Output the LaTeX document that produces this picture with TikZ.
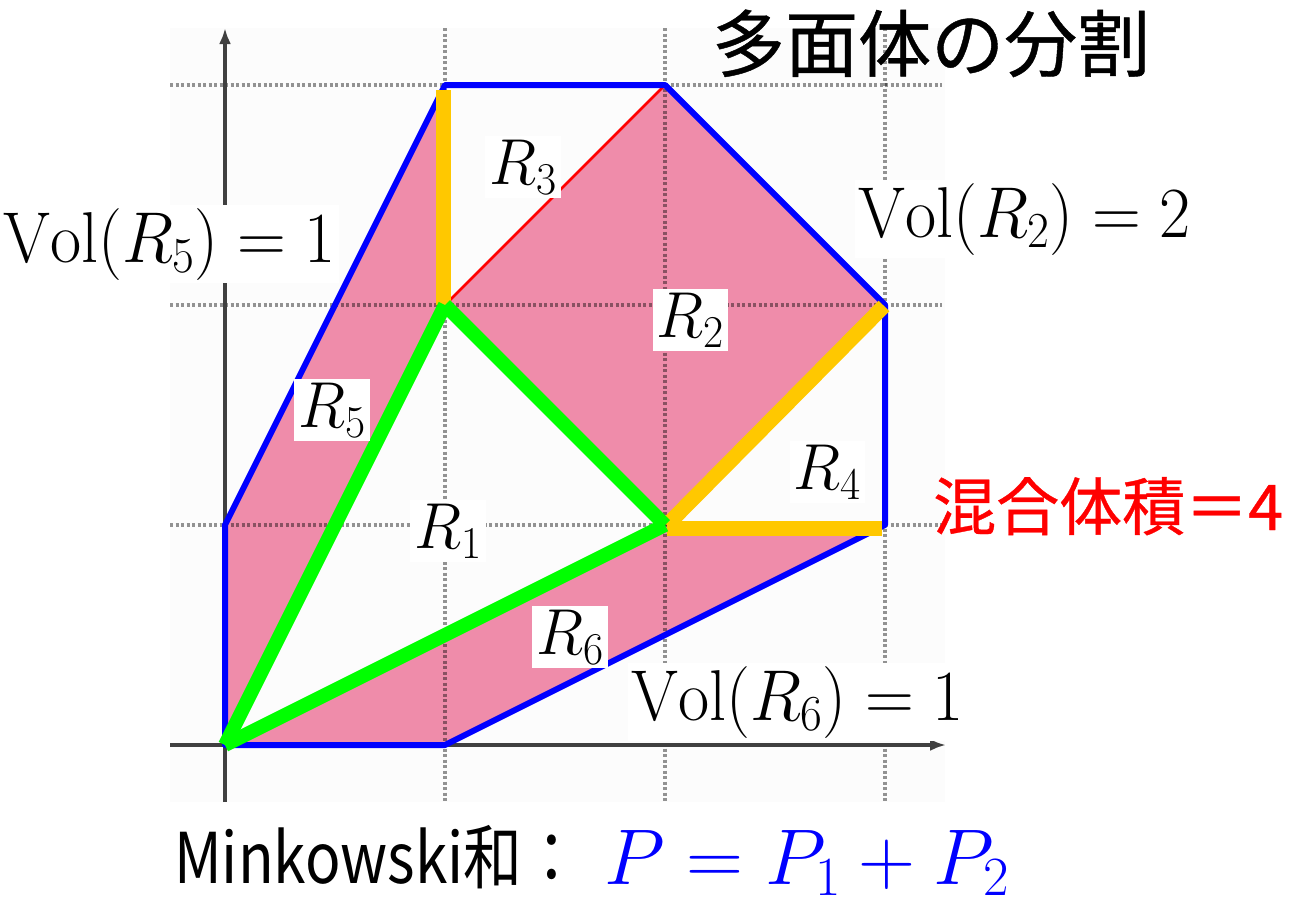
\RequirePackage{fix-cm}
\documentclass[tikz,border=0pt]{standalone}
\usepackage{fontspec}
\usepackage{graphicx}
\newfontfamily\cjk{Noto Sans CJK JP}
\newfontfamily\cjkb[FakeBold=0.6]{Noto Sans CJK JP}
\usetikzlibrary{arrows.meta}
\definecolor{pinkfill}{RGB}{239,140,170}
\definecolor{bgc}{RGB}{252,252,252}
\definecolor{blueline}{RGB}{0,0,255}
\definecolor{greenline}{RGB}{0,255,0}
\definecolor{orangeline}{RGB}{255,200,0}
\definecolor{axisc}{RGB}{64,64,64}
\newcommand\sqz[1]{\scalebox{0.94}[1]{#1}}
\newcommand\rsq[1]{\scalebox{0.96}[1]{#1}}
\newcommand\msq[1]{\scalebox{0.84}[1]{#1}}
\tikzset{
  gridline/.style={black, opacity=0.42, line width=3.5pt, dash pattern=on 3pt off 2.5pt},
  axisline/.style={axisc, line width=3.5pt, -{Latex[length=16pt,width=12pt]}},
  bnd/.style={blueline, line width=6pt, line join=round},
  grn/.style={greenline, line width=14pt},
  org/.style={orangeline, line width=15pt},
  rlab/.style={fill=white, inner sep=4pt, font=\fontsize{65}{72}\selectfont},
  vlab/.style={fill=white, inner sep=3pt, anchor=base west, font=\fontsize{72}{80}\selectfont},
}
\begin{document}
\begin{tikzpicture}[x=1pt,y=-1pt]
\useasboundingbox (0,0) rectangle (1297,905);
% lattice points
\coordinate (v00) at (225,745);
\coordinate (v10) at (445,745);
\coordinate (v31) at (885,525);
\coordinate (v32) at (885,305);
\coordinate (v23) at (665,85);
\coordinate (v13) at (445,85);
\coordinate (v01) at (225,525);
\coordinate (v12) at (445,305);
\coordinate (v21) at (665,525);
% plot background
\fill[bgc] (170,28) rectangle (945,802);
% regions
\fill[pinkfill] (v00) -- (v10) -- (v31) -- (v32) -- (v23) -- (v13) -- (v01) -- cycle;
\fill[bgc] (v00) -- (v12) -- (v21) -- cycle;
\fill[bgc] (v12) -- (v13) -- (v23) -- cycle;
\fill[bgc] (v21) -- (v31) -- (v32) -- cycle;
% grid
\coordinate (gh1a) at (170,85);  \coordinate (gh1b) at (942,85);
\coordinate (gh2a) at (170,305); \coordinate (gh2b) at (942,305);
\coordinate (gh3a) at (170,525); \coordinate (gh3b) at (942,525);
\coordinate (gv1a) at (445,28);  \coordinate (gv1b) at (445,802);
\coordinate (gv2a) at (665,28);  \coordinate (gv2b) at (665,802);
\coordinate (gv3a) at (885,28);  \coordinate (gv3b) at (885,802);
\draw[gridline] (gh1a) -- (gh1b);
\draw[gridline] (gh2a) -- (gh2b);
\draw[gridline] (gh3a) -- (gh3b);
\draw[gridline] (gv1a) -- (gv1b);
\draw[gridline] (gv2a) -- (gv2b);
\draw[gridline] (gv3a) -- (gv3b);
% axes
\coordinate (xa) at (170,745); \coordinate (xb) at (946,745);
\coordinate (ya) at (225,802); \coordinate (yb) at (225,28);
\draw[axisline] (xa) -- (xb);
\draw[axisline] (ya) -- (yb);
% edges
\draw[red, line width=2.5pt] (v12) -- (v23);
\draw[bnd] (v00) -- (v10) -- (v31) -- (v32) -- (v23) -- (v13) -- (v01) -- cycle;
\coordinate (otop) at (443,90);
\coordinate (obot) at (443,305);
\coordinate (oh1) at (667,528);
\coordinate (oh2) at (882,528);
\coordinate (od1) at (667,525);
\coordinate (od2) at (884,306);
\draw[org] (obot) -- (otop);
\draw[org] (oh1) -- (oh2);
\draw[org] (od1) -- (od2);
\draw[grn] (v00) -- (v12);
\draw[grn] (v12) -- (v21);
\draw[grn] (v21) -- (v00);
% region labels
\node[rlab] (r3) at (523,167) {\rsq{$R_3$}};
\node[rlab] (r2) at (690,320) {\rsq{$R_2$}};
\node[rlab] (r5) at (332,410) {\rsq{$R_5$}};
\node[rlab] (r1) at (448,531) {\rsq{$R_1$}};
\node[rlab] (r4) at (827,472) {\rsq{$R_4$}};
\node[rlab] (r6) at (570,637) {\rsq{$R_6$}};
% volume labels
\node[vlab] (vol5) at (0,262) {\sqz{$\mathrm{Vol}(R_5)=1$}};
\node[vlab] (vol2) at (855,237) {\sqz{$\mathrm{Vol}(R_2)=2$}};
\node[vlab] (vol6) at (628,720) {\sqz{$\mathrm{Vol}(R_6)=1$}};
% titles
\node[anchor=base west, inner sep=0, font=\cjkb\fontsize{73}{80}\selectfont] (title) at (712,71) {多面体の分割};
\node[anchor=base west, inner sep=0, text=red, font=\cjkb\fontsize{63}{68}\selectfont] (mixed) at (933,530) {混合体積＝4};
\node[anchor=base west, inner sep=0, font=\cjk\fontsize{70}{76}\selectfont] (mink) at (174,883) {\msq{Minkowski和：}};
\node[anchor=base west, inner sep=0, text=blue, font=\fontsize{79}{86}\selectfont] (psum) at (604,884) {$P=P_1+P_2$};
\end{tikzpicture}
\end{document}
